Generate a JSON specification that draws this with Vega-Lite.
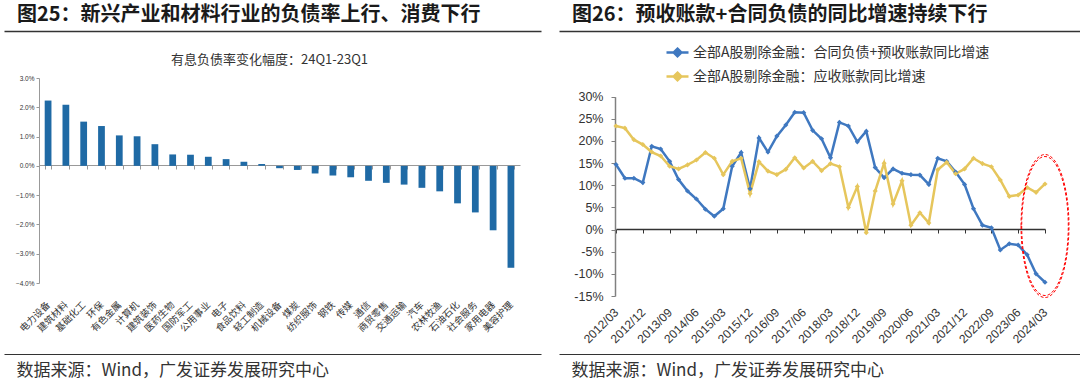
{
  "$schema": "https://vega.github.io/schema/vega-lite/v6.json",
  "padding": {"left": 0, "top": 5, "right": 0, "bottom": 3},
  "background": "white",
  "config": {"view": {"stroke": null}, "font": "Noto Sans CJK SC", "axis": {"grid": false}},
  "bounds": "flush",
  "spacing": {"row": 0, "column": 18},
  "columns": 2,
  "concat": [
    {
      "width": 537, "height": 0,
      "title": {"text": "图25：新兴产业和材料行业的负债率上行、消费下行", "anchor": "start", "dx": 13, "fontSize": 20, "fontWeight": "bold", "color": "#1a1a1a", "offset": -14, "font": "Noto Sans CJK SC"},
      "data": {"values": [{"v": 0.5}]},
      "mark": {"type": "point", "opacity": 0},
      "encoding": {"x": {"field": "v", "type": "quantitative", "scale": {"domain": [0, 1]}, "axis": {"orient": "bottom", "domain": true, "labels": false, "ticks": false, "title": null, "domainColor": "#333", "domainWidth": 1.5}}}
    },
    {
      "width": 525, "height": 0,
      "title": {"text": "图26：预收账款+合同负债的同比增速持续下行", "anchor": "start", "dx": 13, "fontSize": 20, "fontWeight": "bold", "color": "#1a1a1a", "offset": -14, "font": "Noto Sans CJK SC"},
      "data": {"values": [{"v": 0.5}]},
      "mark": {"type": "point", "opacity": 0},
      "encoding": {"x": {"field": "v", "type": "quantitative", "scale": {"domain": [0, 1]}, "axis": {"orient": "bottom", "domain": true, "labels": false, "ticks": false, "title": null, "domainColor": "#333", "domainWidth": 1.5}}}
    },
    {
      "width": 537, "height": 323,
      "title": {"text": "有息负债率变化幅度：24Q1-23Q1", "fontSize": 13, "fontWeight": "normal", "color": "#333", "offset": -36, "anchor": "middle", "dx": -3, "font": "Noto Sans CJK SC"},
      "data": {"values": [
        {"name": "电力设备", "val": 2.23},
        {"name": "建筑材料", "val": 2.09},
        {"name": "基础化工", "val": 1.51},
        {"name": "环保", "val": 1.36},
        {"name": "有色金属", "val": 1.04},
        {"name": "计算机", "val": 1.01},
        {"name": "建筑装饰", "val": 0.74},
        {"name": "医药生物", "val": 0.39},
        {"name": "国防军工", "val": 0.38},
        {"name": "公用事业", "val": 0.31},
        {"name": "电子", "val": 0.23},
        {"name": "食品饮料", "val": 0.14},
        {"name": "轻工制造", "val": 0.06},
        {"name": "机械设备", "val": -0.08},
        {"name": "煤炭", "val": -0.14},
        {"name": "纺织服饰", "val": -0.26},
        {"name": "钢铁", "val": -0.33},
        {"name": "传媒", "val": -0.39},
        {"name": "通信", "val": -0.51},
        {"name": "商贸零售", "val": -0.58},
        {"name": "交通运输", "val": -0.64},
        {"name": "汽车", "val": -0.75},
        {"name": "农林牧渔", "val": -0.87},
        {"name": "石油石化", "val": -1.28},
        {"name": "社会服务", "val": -1.59},
        {"name": "家用电器", "val": -2.2},
        {"name": "美容护理", "val": -3.48}
      ]},
      "mark": {"type": "bar", "color": "#1f6aa5"},
      "encoding": {
        "x": {"field": "name", "type": "nominal", "sort": null,
          "scale": {"paddingInner": 0.62, "paddingOuter": 0.32, "rangeMin": 35, "rangeMax": 516},
          "axis": {"title": null, "orient": "bottom", "offset": -189, "domainColor": "#999", "tickColor": "#999", "tickSize": 4, "tickBand": "extent", "labelAngle": -45, "labelAlign": "right", "labelBaseline": "middle", "labelPadding": 134, "labelFontSize": 9.5, "labelColor": "#333", "labelOverlap": false, "labelBound": false, "labelFont": "Noto Sans CJK SC"}},
        "y": {"field": "val", "type": "quantitative",
          "scale": {"domain": [-4, 3], "nice": false, "rangeMin": 252, "rangeMax": 47},
          "axis": {"title": null, "offset": -35, "values": [-4, -3, -2, -1, 0, 1, 2, 3], "labelExpr": "format(datum.value, '.1f') + '%'", "labelFontSize": 6.5, "labelFont": "Liberation Sans", "labelColor": "#333", "domainColor": "#999", "tickColor": "#999", "tickSize": 3, "labelPadding": 2}}
      }
    },
    {
      "width": 525, "height": 323,
      "encoding": {
        "x": {"field": "q", "type": "ordinal",
          "scale": {"type": "point", "padding": 0, "rangeMin": 57, "rangeMax": 486},
          "axis": {"title": null, "orient": "bottom", "offset": -125,
            "values": ["2012/03", "2012/12", "2013/09", "2014/06", "2015/03", "2015/12", "2016/09", "2017/06", "2018/03", "2018/12", "2019/09", "2020/06", "2021/03", "2021/12", "2022/09", "2023/06", "2024/03"],
            "domainColor": "#333", "domainWidth": 1.5, "tickColor": "#333", "tickSize": 4, "labelAngle": -45, "labelAlign": "right", "labelBaseline": "middle", "labelPadding": 77, "labelFontSize": 12, "labelFont": "Liberation Sans", "labelColor": "#333", "labelOverlap": false, "labelBound": false}},
        "y": {"field": "v", "type": "quantitative",
          "scale": {"domain": [-15, 30], "nice": false, "rangeMin": 265, "rangeMax": 65.7},
          "axis": {"title": null, "offset": -56, "values": [-15, -10, -5, 0, 5, 10, 15, 20, 25, 30], "labelExpr": "datum.value + '%'", "labelFontSize": 12.5, "labelFont": "Liberation Sans", "labelColor": "#333", "domainColor": "#808080", "domainWidth": 1.5, "tickColor": "#808080", "tickSize": 4, "labelPadding": 8}}
      },
      "layer": [
        {
          "data": {"name": "series"},
          "transform": [{"fold": ["a", "b"], "as": ["s", "v"]}],
          "mark": {"type": "line", "strokeWidth": 2.5},
          "encoding": {
            "color": {"field": "s", "type": "nominal",
              "scale": {"domain": ["a", "b"], "range": ["#3f78c0", "#e6c65c"]},
              "legend": {"title": null, "orient": "none", "legendX": 661, "legendY": 29, "direction": "vertical",
                "symbolType": "M-1,0L1,0M0,-0.35L0.35,0L0,0.35L-0.35,0Z", "symbolSize": 484, "symbolStrokeWidth": 2.5,
                "labelFontSize": 14, "labelColor": "#333", "labelFont": "Noto Sans CJK SC", "labelLimit": 600, "labelOffset": 3, "rowPadding": 2,
                "labelExpr": "datum.value == 'a' ? '全部A股剔除金融：合同负债+预收账款同比增速' : '全部A股剔除金融：应收账款同比增速'",
                "encode": {"symbols": {"update": {"fill": {"scale": "color", "field": "value"}}}}}}
          }
        },
        {
          "data": {"name": "series"},
          "transform": [{"fold": ["a", "b"], "as": ["s", "v"]}],
          "mark": {"type": "point", "shape": "diamond", "filled": true, "size": 26, "opacity": 1},
          "encoding": {
            "color": {"field": "s", "type": "nominal", "legend": null}
          }
        },
        {
          "data": {"values": [{"q": "2024/03", "v": 0.8}]},
          "mark": {"type": "point", "shape": "M-0.335,0A0.335,1,0,1,0,0.335,0A0.335,1,0,1,0,-0.335,0Z", "size": 19321, "filled": false, "stroke": "#ff0000", "strokeWidth": 1, "strokeDash": [3, 2], "opacity": 1}
        },
        {
          "data": {"values": [{"q": "2024/03", "v": 0.8}]},
          "mark": {"type": "point", "shape": "M-0.335,0A0.335,1,0,1,0,0.335,0A0.335,1,0,1,0,-0.335,0Z", "size": 20450, "filled": false, "stroke": "#ff0000", "strokeWidth": 1, "strokeDash": [3, 2], "opacity": 1}
        }
      ]
    },
    {
      "width": 537, "height": 0,
      "data": {"values": [{"v": 0.5}]},
      "mark": {"type": "point", "opacity": 0},
      "encoding": {"x": {"field": "v", "type": "quantitative", "scale": {"domain": [0, 1]}, "axis": {"orient": "top", "domain": true, "labels": false, "ticks": false, "title": "数据来源：Wind，广发证券发展研究中心", "titleAnchor": "start", "titleAlign": "left", "titleX": 12, "titleY": 16, "titleBaseline": "middle", "titleFontSize": 17, "titleFontWeight": "normal", "titleColor": "#333", "titleFont": "Noto Sans CJK SC", "domainColor": "#333", "domainWidth": 1.2}}}
    },
    {
      "width": 525, "height": 0,
      "data": {"values": [{"v": 0.5}]},
      "mark": {"type": "point", "opacity": 0},
      "encoding": {"x": {"field": "v", "type": "quantitative", "scale": {"domain": [0, 1]}, "axis": {"orient": "top", "domain": true, "labels": false, "ticks": false, "title": "数据来源：Wind，广发证券发展研究中心", "titleAnchor": "start", "titleAlign": "left", "titleX": 12, "titleY": 16, "titleBaseline": "middle", "titleFontSize": 17, "titleFontWeight": "normal", "titleColor": "#333", "titleFont": "Noto Sans CJK SC", "domainColor": "#333", "domainWidth": 1.2}}}
    }
  ],
  "datasets": {
    "series": [
      {"q": "2012/03", "a": 14.7, "b": 23.4},
      {"q": "2012/06", "a": 11.6, "b": 22.9},
      {"q": "2012/09", "a": 11.6, "b": 20.3},
      {"q": "2012/12", "a": 10.6, "b": 19.2},
      {"q": "2013/03", "a": 18.8, "b": 17.5},
      {"q": "2013/06", "a": 18.2, "b": 16.6},
      {"q": "2013/09", "a": 15.4, "b": 14.3},
      {"q": "2013/12", "a": 11.3, "b": 13.7},
      {"q": "2014/03", "a": 8.7, "b": 14.6},
      {"q": "2014/06", "a": 6.9, "b": 15.7},
      {"q": "2014/09", "a": 4.6, "b": 17.4},
      {"q": "2014/12", "a": 3.0, "b": 16.1},
      {"q": "2015/03", "a": 4.7, "b": 12.4},
      {"q": "2015/06", "a": 14.3, "b": 15.4},
      {"q": "2015/09", "a": 17.4, "b": 16.1},
      {"q": "2015/12", "a": 9.2, "b": 8.1},
      {"q": "2016/03", "a": 20.7, "b": 15.3},
      {"q": "2016/06", "a": 17.5, "b": 13.2},
      {"q": "2016/09", "a": 21.1, "b": 12.4},
      {"q": "2016/12", "a": 23.6, "b": 13.6},
      {"q": "2017/03", "a": 26.5, "b": 16.2},
      {"q": "2017/06", "a": 26.4, "b": 13.9},
      {"q": "2017/09", "a": 22.4, "b": 15.4},
      {"q": "2017/12", "a": 20.5, "b": 13.3},
      {"q": "2018/03", "a": 16.2, "b": 14.9},
      {"q": "2018/06", "a": 24.2, "b": 14.2},
      {"q": "2018/09", "a": 23.4, "b": 5.0},
      {"q": "2018/12", "a": 19.8, "b": 9.7},
      {"q": "2019/03", "a": 22.2, "b": -0.7},
      {"q": "2019/06", "a": 14.0, "b": 8.7},
      {"q": "2019/09", "a": 11.7, "b": 15.0},
      {"q": "2019/12", "a": 13.7, "b": 5.8},
      {"q": "2020/03", "a": 12.7, "b": 11.0},
      {"q": "2020/06", "a": 12.4, "b": 1.0},
      {"q": "2020/09", "a": 12.3, "b": 3.8},
      {"q": "2020/12", "a": 10.2, "b": 1.5},
      {"q": "2021/03", "a": 16.1, "b": 13.5},
      {"q": "2021/06", "a": 15.4, "b": 15.2},
      {"q": "2021/09", "a": 13.0, "b": 12.6},
      {"q": "2021/12", "a": 10.2, "b": 13.7},
      {"q": "2022/03", "a": 4.7, "b": 16.1},
      {"q": "2022/06", "a": 1.0, "b": 14.9},
      {"q": "2022/09", "a": 0.4, "b": 14.2},
      {"q": "2022/12", "a": -4.6, "b": 11.2},
      {"q": "2023/03", "a": -3.2, "b": 7.5},
      {"q": "2023/06", "a": -3.5, "b": 7.8},
      {"q": "2023/09", "a": -5.7, "b": 9.5},
      {"q": "2023/12", "a": -10.0, "b": 8.4},
      {"q": "2024/03", "a": -11.9, "b": 10.3}
    ]
  }
}
